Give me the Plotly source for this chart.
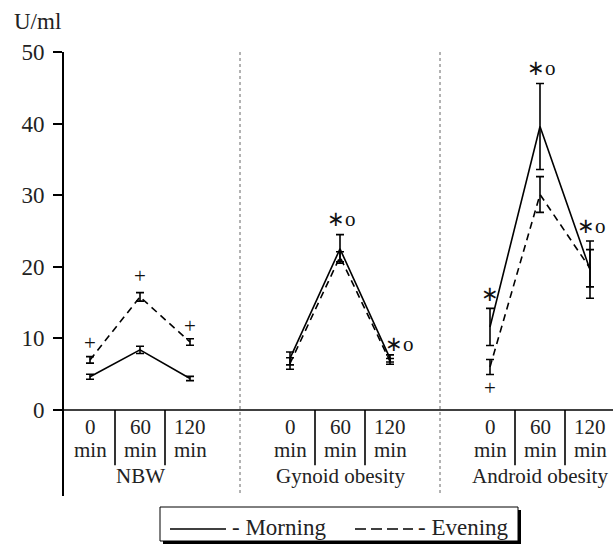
import plotly.graph_objects as go

# ---------------- data ----------------
groups = ["NBW", "Gynoid obesity", "Android obesity"]
times = ["0", "60", "120"]

morning = [4.65, 8.4, 4.4, 7.2, 22.5, 7.2, 11.6, 39.6, 19.6]
morning_err = [0.35, 0.5, 0.3, 0.9, 2.0, 0.5, 2.6, 6.0, 4.0]
evening = [7.0, 15.8, 9.5, 6.5, 21.4, 6.8, 6.0, 30.1, 19.8]
evening_err = [0.45, 0.6, 0.45, 0.8, 0.7, 0.4, 1.05, 2.5, 2.6]

# significance marks: (group, time index, label, y value)
sig_group = [0, 0, 0, 1, 1, 2, 2, 2, 2]
sig_time = [0, 1, 2, 1, 2, 0, 0, 1, 2]
sig_text = ["+", "+", "+", "∗o", "∗o", "∗", "+", "∗o", "∗o"]
sig_y = [9.3, 18.7, 11.8, 26.7, 9.2, 16.2, 3.1, 47.7, 25.7]

y_ticks = [0, 10, 20, 30, 40, 50]

FONT = "Liberation Serif, Times New Roman, serif"
TXT = "#222222"

def pos(g, t):
    return g * 4 + t + 1

fig = go.Figure()

for gi in range(len(groups)):
    xs = [pos(gi, t) for t in range(3)]
    sl = slice(gi * 3, gi * 3 + 3)
    fig.add_trace(go.Scatter(
        x=xs, y=morning[sl], mode="lines",
        line=dict(color="black", width=1.6),
        error_y=dict(type="data", array=morning_err[sl], color="black",
                     thickness=1.6, width=4),
        showlegend=False, hoverinfo="skip"))
    fig.add_trace(go.Scatter(
        x=xs, y=evening[sl], mode="lines",
        line=dict(color="black", width=1.6, dash="7px,5px"),
        error_y=dict(type="data", array=evening_err[sl], color="black",
                     thickness=1.6, width=4),
        showlegend=False, hoverinfo="skip"))

shapes = []
annotations = []

# x axis line at y = 0
shapes.append(dict(type="line", xref="paper", yref="y", x0=0, x1=1, y0=0, y1=0,
                   line=dict(color="black", width=1.6)))

for gi, gname in enumerate(groups):
    # table separators
    for t in range(2):
        xsep = pos(gi, t) + 0.5
        shapes.append(dict(type="line", xref="x", yref="y", x0=xsep, x1=xsep,
                           y0=0, y1=-7.7, line=dict(color="black", width=1.6)))
    for t, tl in enumerate(times):
        annotations.append(dict(x=pos(gi, t), y=-2.4, xref="x", yref="y",
                                text=tl, showarrow=False,
                                font=dict(family=FONT, size=21, color=TXT)))
        annotations.append(dict(x=pos(gi, t), y=-5.6, xref="x", yref="y",
                                text="min", showarrow=False,
                                font=dict(family=FONT, size=21, color=TXT)))
    annotations.append(dict(x=pos(gi, 1), y=-9.2, xref="x", yref="y",
                            text=gname, showarrow=False,
                            font=dict(family=FONT, size=21, color=TXT)))
    if gi > 0:
        xd = gi * 4
        shapes.append(dict(type="line", xref="x", yref="y", x0=xd, x1=xd,
                           y0=50, y1=-11.6,
                           line=dict(color="#666666", width=1, dash="dot")))

for g, t, s, yv in zip(sig_group, sig_time, sig_text, sig_y):
    xv = pos(g, t)
    if s == "∗o":
        txt = '<span style="font-size:21px">∗</span>o'
        xv = xv + 0.02
        if g == 1 and t == 2:
            xv = xv + 0.16
    elif s == "∗":
        txt = '<span style="font-size:21px">∗</span>'
    else:
        txt = s
    annotations.append(dict(x=xv, y=yv, xref="x", yref="y", text=txt,
                            showarrow=False,
                            font=dict(family=FONT, size=21, color="#111111")))

# y axis title
annotations.append(dict(x=-0.094, y=1.068, xref="paper", yref="paper",
                        text="U/ml", showarrow=False, xanchor="left",
                        yanchor="middle",
                        font=dict(family=FONT, size=23, color=TXT)))

# ----- manual legend box -----
W, H, L, T = 549.0, 444.0, 64.0, 52.0
def px(x):
    return (x - L) / W
def py(y):
    return (T + H - y) / H

# shadow
shapes.append(dict(type="rect", xref="paper", yref="paper",
                   x0=px(163), x1=px(521), y0=py(544), y1=py(510),
                   fillcolor="black", line=dict(width=0), layer="above"))
shapes.append(dict(type="rect", xref="paper", yref="paper",
                   x0=px(160), x1=px(518), y0=py(541), y1=py(507),
                   fillcolor="white", line=dict(color="black", width=1),
                   layer="above"))
shapes.append(dict(type="line", xref="paper", yref="paper",
                   x0=px(170), x1=px(226), y0=py(529), y1=py(529),
                   line=dict(color="black", width=1.6), layer="above"))
shapes.append(dict(type="line", xref="paper", yref="paper",
                   x0=px(355), x1=px(413), y0=py(529), y1=py(529),
                   line=dict(color="black", width=1.6, dash="11px,5px"),
                   layer="above"))
annotations.append(dict(x=px(230), y=py(527), xref="paper", yref="paper",
                        text="- Morning", showarrow=False, xanchor="left",
                        yanchor="middle",
                        font=dict(family=FONT, size=23, color=TXT)))
annotations.append(dict(x=px(416), y=py(527), xref="paper", yref="paper",
                        text="- Evening", showarrow=False, xanchor="left",
                        yanchor="middle",
                        font=dict(family=FONT, size=23, color=TXT)))

fig.update_layout(
    width=613, height=544,
    margin=dict(l=64, r=0, t=52, b=48),
    paper_bgcolor="white", plot_bgcolor="white",
    shapes=shapes, annotations=annotations,
    xaxis=dict(range=[0.48, 11.46], visible=False, fixedrange=True),
    yaxis=dict(range=[-12.01, 50], tickvals=y_ticks, ticks="outside",
               ticklen=9, tickwidth=1.6, tickcolor="black",
               showline=True, linecolor="black", linewidth=1.6,
               showgrid=False, zeroline=False, ticklabelstandoff=4,
               tickfont=dict(family=FONT, size=23, color=TXT)),
)

fig.write_html("out.html", config={"displayModeBar": False},
               post_script="document.body.style.margin='0px';"
                           "document.body.style.overflow='hidden';")
